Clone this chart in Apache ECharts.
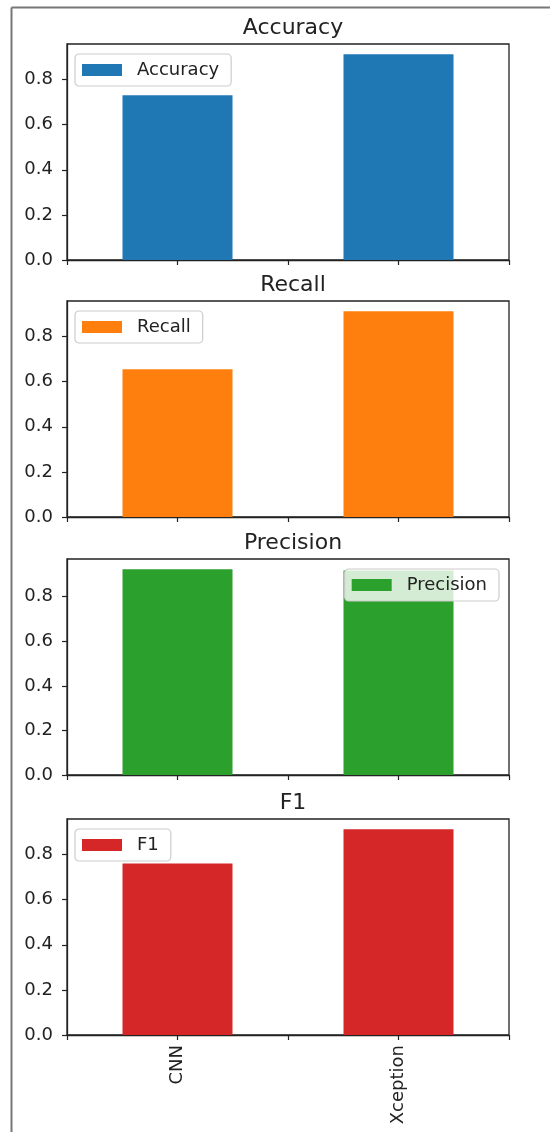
<!DOCTYPE html>
<html>
<head>
<meta charset="utf-8">
<script src="https://cdn.jsdelivr.net/npm/echarts@6/dist/echarts.min.js"></script>
<style>
html,body{margin:0;padding:0;background:#fff;}
#chart{width:550px;height:1132px;}
</style>
</head>
<body>
<div id="chart"></div>
<script>
const categories = ['CNN', 'Xception'];
const metricNames = ['Accuracy', 'Recall', 'Precision', 'F1'];
const accuracy = [0.73, 0.912];
const recall = [0.655, 0.912];
const precision = [0.923, 0.918];
const f1 = [0.76, 0.912];
const yTickValues = [0, 0.2, 0.4, 0.6, 0.8];
const xTickValues = [-0.5, 0, 0.5, 1, 1.5];
const colors = ['#1f77b4', '#ff7f0e', '#2ca02c', '#d62728'];

const metricValues = [accuracy, recall, precision, f1];
const gridTops = [44, 301, 559, 819];
const gridH = 216;
const gridLeft = 67, gridRight = 41;
const legendPos = [
  {left: 75, top: 54},
  {left: 75, top: 311},
  {right: 51, top: 569},
  {left: 75, top: 829}
];
const txt = '#222';
const FONT = 'DejaVu Sans';

const grids = [], xAxes = [], yAxes = [], series = [], legends = [], titles = [];
metricNames.forEach((name, i) => {
  const vals = metricValues[i];
  grids.push({
    left: gridLeft, right: gridRight, top: gridTops[i], height: gridH,
    show: true, borderColor: txt, borderWidth: 1.3, backgroundColor: 'transparent'
  });
  const isLast = i === metricNames.length - 1;
  xAxes.push({
    type: 'value', gridIndex: i, min: -0.5, max: 1.5, interval: 0.5,
    axisLine: {show: true, onZero: false, lineStyle: {color: txt, width: 1.3}},
    axisTick: {show: true, length: 5, customValues: xTickValues, lineStyle: {color: txt, width: 1.2}},
    splitLine: {show: false},
    axisLabel: {
      show: isLast, rotate: 90, margin: 10, color: txt, fontSize: 18, fontFamily: FONT,
      showMinLabel: true, showMaxLabel: true,
      formatter: v => (Number.isInteger(v) && categories[v] !== undefined) ? categories[v] : ''
    }
  });
  yAxes.push({
    type: 'value', gridIndex: i, min: 0, max: Math.max(...vals) * 1.05,
    axisLine: {show: true, onZero: false, lineStyle: {color: txt, width: 1.3}},
    axisTick: {show: true, length: 5, customValues: yTickValues, lineStyle: {color: txt, width: 1.2}},
    splitLine: {show: false},
    axisLabel: {
      customValues: yTickValues, margin: 14, color: txt, fontSize: 18, fontFamily: FONT,
      formatter: v => v.toFixed(1)
    }
  });
  series.push({
    type: 'bar', name: name, xAxisIndex: i, yAxisIndex: i,
    barWidth: 110, itemStyle: {color: colors[i]},
    data: categories.map((c, k) => [k, vals[k]]),
    z: 2
  });
  legends.push(Object.assign({
    data: [name], orient: 'horizontal',
    itemWidth: 40, itemHeight: 12, icon: 'rect',
    padding: [7, 12, 7, 7],
    backgroundColor: 'rgba(255,255,255,0.8)',
    borderColor: '#cccccc', borderWidth: 1.2, borderRadius: 4,
    selectedMode: false,
    textStyle: {color: txt, fontSize: 18, fontFamily: FONT, padding: [0, 0, 0, 10]}
  }, legendPos[i]));
  titles.push({
    text: name, left: (gridLeft + 550 - gridRight) / 2, textAlign: 'center',
    top: gridTops[i] - 32,
    textStyle: {color: txt, fontSize: 22, fontWeight: 'normal', fontFamily: FONT}
  });
});

const chart = echarts.init(document.getElementById('chart'), null, {renderer: 'canvas'});
chart.setOption({
  backgroundColor: '#fff',
  animation: false,
  title: titles,
  legend: legends,
  grid: grids,
  xAxis: xAxes,
  yAxis: yAxes,
  series: series,
  graphic: [
    {type: 'line', shape: {x1: 11.5, y1: 7.5, x2: 550, y2: 7.5}, style: {stroke: '#777', lineWidth: 2}, silent: true},
    {type: 'line', shape: {x1: 11.5, y1: 7.5, x2: 11.5, y2: 1132}, style: {stroke: '#777', lineWidth: 2}, silent: true}
  ]
});
</script>
</body>
</html>
